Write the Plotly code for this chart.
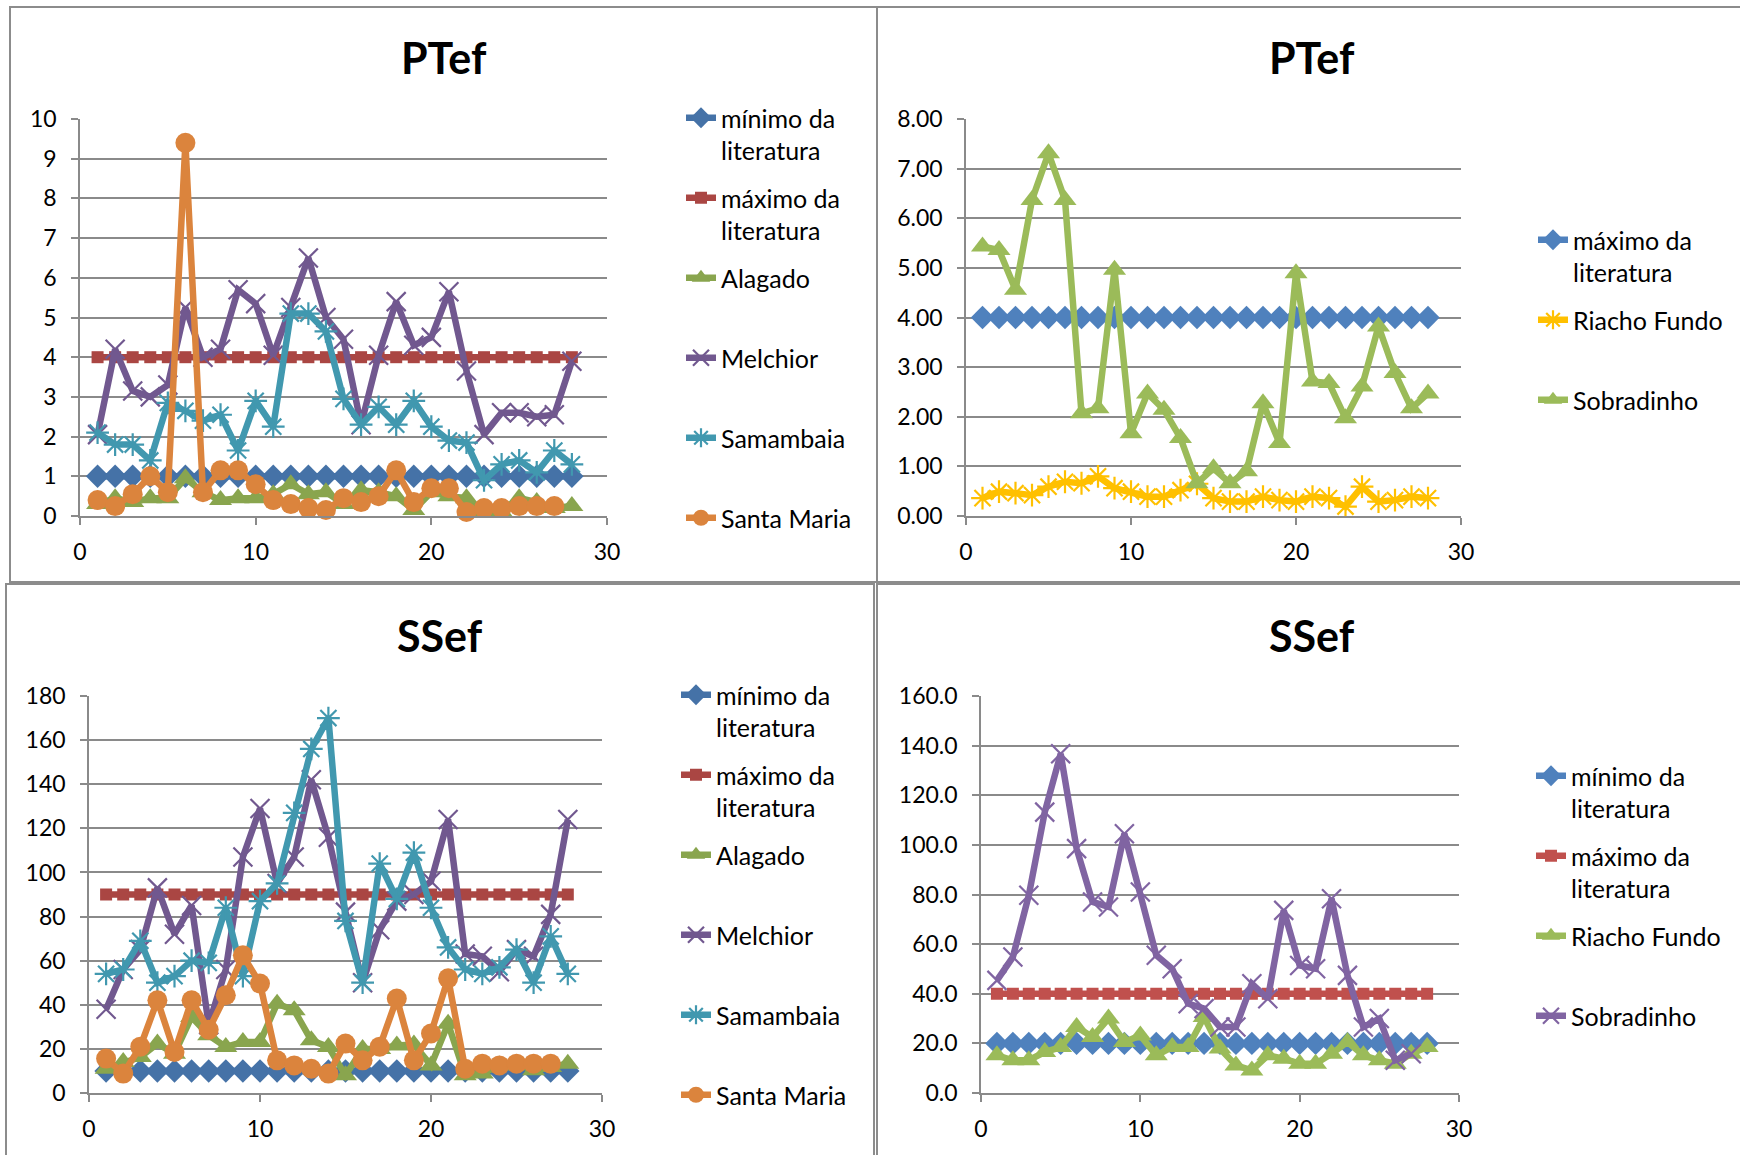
import plotly.graph_objects as go

W, H = 1740, 1155
FONT = "Lato"
GRID = "#8a8a8a"

x_days = list(range(1, 29))

# ---- PTef (top-left) ----
pt_min = [1, 1, 1, 1, 1, 1, 1, 1, 1, 1, 1, 1, 1, 1, 1, 1, 1, 1, 1, 1, 1, 1, 1, 1, 1, 1, 1, 1]
pt_max = [4, 4, 4, 4, 4, 4, 4, 4, 4, 4, 4, 4, 4, 4, 4, 4, 4, 4, 4, 4, 4, 4, 4, 4, 4, 4, 4, 4]
pt_alagado = [0.3, 0.45, 0.35, 0.45, 0.45, 0.95, 0.6, 0.4, 0.45, 0.45, 0.55, 0.8, 0.55, 0.6,
              0.3, 0.65, 0.6, 0.5, 0.15, 0.6, 0.5, 0.45, 0.1, 0.1, 0.45, 0.35, 0.2, 0.25]
pt_melchior = [2.05, 4.2, 3.15, 3.0, 3.3, 5.25, 4.0, 4.2, 5.7, 5.35, 4.05, 5.25, 6.5, 5.0,
               4.45, 2.3, 4.05, 5.4, 4.3, 4.5, 5.65, 3.65, 2.05, 2.6, 2.6, 2.5, 2.55, 3.9]
pt_samambaia = [2.1, 1.8, 1.8, 1.4, 2.85, 2.65, 2.4, 2.55, 1.65, 2.9, 2.25, 5.1, 5.1, 4.65,
                2.95, 2.3, 2.75, 2.3, 2.9, 2.25, 1.9, 1.85, 0.9, 1.3, 1.4, 1.1, 1.65, 1.3]
pt_santamaria = [0.4, 0.25, 0.55, 1.0, 0.6, 9.4, 0.6, 1.15, 1.15, 0.8, 0.4, 0.3, 0.2, 0.15,
                 0.45, 0.35, 0.5, 1.15, 0.35, 0.7, 0.7, 0.1, 0.2, 0.2, 0.25, 0.25, 0.25]

# ---- PTef (top-right) ----
pt2_max = [4, 4, 4, 4, 4, 4, 4, 4, 4, 4, 4, 4, 4, 4, 4, 4, 4, 4, 4, 4, 4, 4, 4, 4, 4, 4, 4, 4]
pt2_riacho = [0.36, 0.49, 0.46, 0.42, 0.59, 0.69, 0.66, 0.8, 0.56, 0.49, 0.39, 0.39, 0.52, 0.65,
              0.36, 0.29, 0.29, 0.39, 0.32, 0.29, 0.39, 0.36, 0.19, 0.59, 0.29, 0.32, 0.39, 0.36]
pt2_sobradinho = [5.43, 5.36, 4.56, 6.37, 7.31, 6.37, 2.07, 2.17, 4.96, 1.67, 2.47, 2.14, 1.57, 0.66,
                  0.96, 0.66, 0.9, 2.27, 1.47, 4.89, 2.71, 2.68, 1.97, 2.61, 3.82, 2.88, 2.17, 2.47]

# ---- SSef (bottom-left) ----
ss_min = [10, 10, 10, 10, 10, 10, 10, 10, 10, 10, 10, 10, 10, 10, 10, 10, 10, 10, 10, 10, 10, 10, 10, 10, 10, 10, 10, 10]
ss_max = [90, 90, 90, 90, 90, 90, 90, 90, 90, 90, 90, 90, 90, 90, 90, 90, 90, 90, 90, 90, 90, 90, 90, 90, 90, 90, 90, 90]
ss_alagado = [11, 14, 16.3, 22.4, 17.8, 34.5, 26.2, 20.9, 23.1, 23.1, 40.5, 37.5, 23.9, 20.9,
              8, 20, 20, 21.5, 22, 12.5, 31.4, 8, 8.8, 12.5, 13.3, 10.3, 11.8, 13.3]
ss_melchior = [38, 56, 65, 93, 72, 85, 31, 56, 107, 129, 95, 107, 142, 116,
               82, 50, 74, 87, 90, 96, 124, 63, 62, 55, 65, 62, 81, 124]
ss_samambaia = [54, 56, 69, 50, 53, 60, 59, 84, 53, 87, 95, 127, 156, 170,
                78, 50, 104, 88, 109, 84, 66, 56, 54, 57, 65, 50, 71, 54]
ss_santamaria = [15.6, 8.8, 21, 42, 18.6, 42, 28.7, 44.3, 62.4, 49.6, 14.8, 12.5, 11, 8.8,
                 22.4, 14.8, 21, 42.8, 14.8, 27, 52, 11, 13.3, 12.5, 13.3, 13.3, 13.3]

# ---- SSef (bottom-right) ----
ss2_min = [20, 20, 20, 20, 20, 20, 20, 20, 20, 20, 20, 20, 20, 20, 20, 20, 20, 20, 20, 20, 20, 20, 20, 20, 20, 20, 20, 20]
ss2_max = [40, 40, 40, 40, 40, 40, 40, 40, 40, 40, 40, 40, 40, 40, 40, 40, 40, 40, 40, 40, 40, 40, 40, 40, 40, 40, 40, 40]
ss2_riacho = [15.2, 13.2, 13.2, 16.5, 18.5, 26.6, 22.6, 30, 20.6, 23.2, 15.2, 18.5, 18.5, 30.6,
              17.9, 11.1, 9.1, 15.2, 13.8, 11.8, 11.8, 15.8, 20.6, 15.2, 13.2, 11.8, 15.8, 18.5]
ss2_sobradinho = [45.4, 54.8, 79.7, 113.2, 136.7, 98.5, 77, 75, 104.5, 81, 55.5, 50.1, 36, 34,
                  26.6, 26.6, 44, 38, 73.6, 51.4, 50.1, 78.3, 47.4, 26.6, 30, 13.2, 15.8]

# colours (darker set on left panels, lighter on right panels)
C_BLUE_D, C_RED_D, C_GREEN_D, C_PURPLE_D, C_TEAL_D, C_ORANGE_D = (
    "#4572A7", "#AA4643", "#89A54E", "#71588F", "#4198AF", "#DB843D")
C_BLUE, C_RED, C_GREEN, C_YELLOW, C_PURPLE = (
    "#4F81BD", "#C0504D", "#9BBB59", "#FFC000", "#8064A2")

NB = "<br>\u00a0"

MK = {
    "diamond": dict(symbol="diamond", size=18),
    "square": dict(symbol="square", size=12),
    "triangle": dict(symbol="triangle-up", size=20),
    "x": dict(symbol="x-thin-open", size=19, line=dict(width=2.2)),
    "star": dict(symbol="asterisk-open", size=19, line=dict(width=2.2)),
    "circle": dict(symbol="circle", size=20),
}

fig = go.Figure()


def add(xs, ys, name, color, mk, ax, leg, lw=6.5):
    m = dict(MK[mk])
    m["color"] = color
    if "line" in m:
        m["line"] = dict(width=m["line"]["width"], color=color)
    fig.add_trace(go.Scatter(
        x=xs[:len(ys)], y=ys, name=name, mode="lines+markers",
        line=dict(color=color, width=lw), marker=m,
        xaxis="x" + ax, yaxis="y" + ax, legend=leg, legendgroup=leg + name,
        cliponaxis=False, showlegend=True))


# panel 1
add(x_days, pt_min, "mínimo da<br>literatura", C_BLUE_D, "diamond", "", "legend")
add(x_days, pt_max, "máximo da<br>literatura", C_RED_D, "square", "", "legend")
add(x_days, pt_alagado, "Alagado" + NB, C_GREEN_D, "triangle", "", "legend")
add(x_days, pt_melchior, "Melchior" + NB, C_PURPLE_D, "x", "", "legend")
add(x_days, pt_samambaia, "Samambaia" + NB, C_TEAL_D, "star", "", "legend")
add(x_days, pt_santamaria, "Santa Maria" + NB, C_ORANGE_D, "circle", "", "legend")
# panel 2
add(x_days, pt2_max, "máximo da<br>literatura", C_BLUE, "diamond", "2", "legend2")
add(x_days, pt2_riacho, "Riacho Fundo" + NB, C_YELLOW, "star", "2", "legend2")
add(x_days, pt2_sobradinho, "Sobradinho" + NB, C_GREEN, "triangle", "2", "legend2")
# panel 3
add(x_days, ss_min, "mínimo da<br>literatura", C_BLUE_D, "diamond", "3", "legend3")
add(x_days, ss_max, "máximo da<br>literatura", C_RED_D, "square", "3", "legend3")
add(x_days, ss_alagado, "Alagado" + NB, C_GREEN_D, "triangle", "3", "legend3")
add(x_days, ss_melchior, "Melchior" + NB, C_PURPLE_D, "x", "3", "legend3")
add(x_days, ss_samambaia, "Samambaia" + NB, C_TEAL_D, "star", "3", "legend3")
add(x_days, ss_santamaria, "Santa Maria" + NB, C_ORANGE_D, "circle", "3", "legend3")
# panel 4
add(x_days, ss2_min, "mínimo da<br>literatura", C_BLUE, "diamond", "4", "legend4")
add(x_days, ss2_max, "máximo da<br>literatura", C_RED, "square", "4", "legend4")
add(x_days, ss2_riacho, "Riacho Fundo" + NB, C_GREEN, "triangle", "4", "legend4")
add(x_days, ss2_sobradinho, "Sobradinho" + NB, C_PURPLE, "x", "4", "legend4")


def px(v):
    return v / W


def py(v):
    return 1 - v / H


tickfont = dict(family=FONT, size=23, color="black")


def xax(x0, x1, anchor):
    return dict(domain=[px(x0), px(x1)], range=[0, 30], dtick=10, tick0=0, anchor=anchor,
                showline=True, linecolor=GRID, linewidth=1.5, ticks="outside", ticklen=7,
                tickwidth=1.5, tickcolor=GRID, showgrid=False, zeroline=False,
                tickfont=tickfont, ticklabelstandoff=8)


def yax(y0, y1, rng, dt, fmt, anchor):
    return dict(domain=[py(y1), py(y0)], range=rng, dtick=dt, tick0=0, anchor=anchor,
                showline=True, linecolor=GRID, linewidth=1.5, ticks="outside", ticklen=7,
                tickwidth=1.5, tickcolor=GRID, showgrid=True, gridcolor=GRID, gridwidth=1.5,
                zeroline=False, tickfont=tickfont, tickformat=fmt, ticklabelstandoff=10)


legfont = dict(family=FONT, size=25, color="black")


def leg(xl, ytop):
    return dict(x=px(xl), y=py(ytop), xanchor="left", yanchor="top", font=legfont,
                valign="top", tracegroupgap=12, bgcolor="rgba(0,0,0,0)", borderwidth=0,
                itemclick=False, itemdoubleclick=False)


def title(text, xc, yc):
    return dict(text="<b>%s</b>" % text, x=px(xc), y=py(yc), xref="paper", yref="paper",
                xanchor="center", yanchor="middle", showarrow=False,
                font=dict(family=FONT, size=43, color="black"))


def frame(x0, y0, x1, y1):
    return dict(type="rect", xref="paper", yref="paper", x0=px(x0), x1=px(x1),
                y0=py(y1), y1=py(y0), line=dict(color="#8c8c8c", width=2),
                fillcolor="rgba(0,0,0,0)", layer="below")


fig.update_layout(
    width=W, height=H, margin=dict(l=0, r=0, t=0, b=0, autoexpand=False),
    paper_bgcolor="white", plot_bgcolor="white",
    font=dict(family=FONT, color="black"),
    xaxis=xax(80, 607, "y"), yaxis=yax(119, 516, [0, 10], 1, "d", "x"),
    xaxis2=xax(966, 1461, "y2"), yaxis2=yax(119, 516, [0, 8], 1, ".2f", "x2"),
    xaxis3=xax(89, 602, "y3"), yaxis3=yax(696, 1093, [0, 180], 20, "d", "x3"),
    xaxis4=xax(981, 1459, "y4"), yaxis4=yax(696, 1093, [0, 160], 20, ".1f", "x4"),
    legend=leg(681, 95),
    legend2=leg(1533, 217),
    legend3=leg(676, 672),
    legend4=leg(1531, 753),
    annotations=[title("PTef", 444, 58), title("PTef", 1312, 58),
                 title("SSef", 440, 635), title("SSef", 1312, 635)],
    shapes=[frame(10, 7, 877, 582), frame(877, 7, 1750, 582),
            frame(6, 584, 874, 1165), frame(877, 584, 1750, 1165)],
)

fig.write_html("out.html", config={"displayModeBar": False},
               post_script="document.body.style.margin='0';document.body.style.overflow='hidden';")
